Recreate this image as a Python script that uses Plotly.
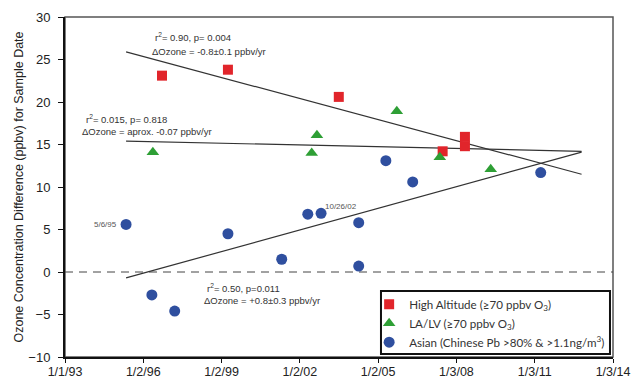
import plotly.graph_objects as go

# ---- data ----
high_dates = ["1996-09-20", "1999-04-01", "2003-07-01", "2007-06-24", "2008-05-01", "2008-05-01"]
high_vals = [23.1, 23.8, 20.6, 14.2, 15.9, 14.8]

lalv_dates = ["1996-05-15", "2002-06-17", "2002-08-29", "2005-09-20", "2007-05-15", "2009-04-27"]
lalv_vals = [14.1, 14.0, 16.1, 18.9, 13.5, 12.1]

asian_dates = ["1995-05-06", "1996-05-01", "1997-03-17", "1999-04-01", "2001-04-23", "2002-04-23",
               "2002-10-26", "2004-04-05", "2004-04-05", "2005-04-20", "2006-05-01", "2011-03-28"]
asian_vals = [5.6, -2.7, -4.6, 4.5, 1.5, 6.8, 6.9, 5.8, 0.7, 13.1, 10.6, 11.7]

trend_dates = ["1995-05-06", "2012-10-20"]
high_trend = [25.9, 11.5]
lalv_trend = [15.4, 14.2]
asian_trend = [-0.7, 14.1]

tick_vals = ["1993-01-01", "1996-01-02", "1999-01-02", "2002-01-02", "2005-01-02",
             "2008-01-03", "2011-01-03", "2014-01-03"]
tick_text = ["1/1/93", "1/2/96", "1/2/99", "1/2/02", "1/2/05", "1/3/08", "1/3/11", "1/3/14"]

RED = "#e1252b"
GREEN = "#2e9f35"
BLUE = "#2f4f9f"

fig = go.Figure()

for yv in (high_trend, lalv_trend, asian_trend):
    fig.add_trace(go.Scatter(x=trend_dates, y=yv, mode="lines",
                             line=dict(color="#333333", width=1.2), showlegend=False,
                             hoverinfo="skip"))

fig.add_trace(go.Scatter(x=high_dates, y=high_vals, mode="markers",
                         name="High Altitude (≥70 ppbv O<sub>3</sub>)",
                         marker=dict(symbol="square", size=10, color=RED)))
fig.add_trace(go.Scatter(x=lalv_dates, y=lalv_vals, mode="markers",
                         name="LA/LV (≥70 ppbv O<sub>3</sub>)",
                         marker=dict(symbol="triangle-up", size=11, color=GREEN)))
fig.add_trace(go.Scatter(x=asian_dates, y=asian_vals, mode="markers",
                         name="Asian (Chinese Pb >80% &amp; >1.1ng/m<sup>3</sup>)",
                         marker=dict(symbol="circle", size=11, color=BLUE)))

afont = dict(family="Liberation Sans, Arial, sans-serif", size=9.5, color="#333333")
notes = [
    ("1996-05-15", 27.6, "r<sup>2</sup>= 0.90, p= 0.004"),
    ("1996-04-05", 26.0, "ΔOzone = -0.8±0.1 ppbv/yr"),
    ("1993-09-23", 18.0, "r<sup>2</sup>= 0.015, p= 0.818"),
    ("1993-07-28", 16.5, "ΔOzone = aprox. -0.07 ppbv/yr"),
    ("1998-05-12", -1.9, "r<sup>2</sup>= 0.50, p=0.011"),
    ("1998-04-01", -3.4, "ΔOzone = +0.8±0.3 ppbv/yr"),
]
for x, y, t in notes:
    fig.add_annotation(x=x, y=y, text=t, showarrow=False, xanchor="left", yanchor="middle",
                       font=afont)

dfont = dict(family="Liberation Sans, Arial, sans-serif", size=8, color="#555555")
fig.add_annotation(x="1995-05-06", y=5.6, text="5/6/95", showarrow=False, xanchor="right",
                   yanchor="middle", xshift=-7, font=dfont)
fig.add_annotation(x="2002-10-26", y=6.9, text="10/26/02", showarrow=False, xanchor="left",
                   yanchor="bottom", xshift=2, yshift=0, font=dfont)

# frame (top/right gray) and zero reference
fig.add_shape(type="rect", xref="paper", yref="paper", x0=0, x1=1, y0=0, y1=1,
              line=dict(color="#555555", width=1.5), layer="below")
fig.add_shape(type="line", xref="paper", yref="y", x0=0, x1=1, y0=0, y1=0,
              line=dict(color="#444444", width=1, dash="8px,6px"), layer="below")
# legend frame
fig.add_shape(type="rect", xref="paper", yref="paper", x0=0.5766, x1=0.9945, y0=0.009, y1=0.194,
              line=dict(color="#111111", width=2), fillcolor="white", layer="above")

tfont = dict(family="Liberation Sans, Arial, sans-serif", size=12.5, color="#222222")
fig.update_xaxes(type="date", range=["1993-01-01", "2014-01-03"], tickvals=tick_vals,
                 ticktext=tick_text, showgrid=False, zeroline=False, showline=True,
                 linecolor="#111111", linewidth=2, ticks="outside", ticklen=4,
                 tickcolor="#111111", tickfont=tfont, automargin=False, ticklabelstandoff=-2)
fig.update_yaxes(range=[-10, 30], dtick=5, showgrid=False, zeroline=False, showline=True,
                 linecolor="#111111", linewidth=2, ticks="outside", ticklen=5,
                 tickcolor="#111111", tickfont=dict(tfont, size=13), ticklabelstandoff=5,
                 automargin=False,
                 title=dict(text="Ozone Concentration Difference (ppbv) for Sample Date",
                            font=dict(family="Liberation Sans, Arial, sans-serif", size=12.5,
                                      color="#222222"), standoff=2))

fig.update_layout(
    width=632, height=378,
    margin=dict(l=65, r=19, t=17, b=21),
    paper_bgcolor="white", plot_bgcolor="white",
    legend=dict(x=0.555, y=0.198, xanchor="left", yanchor="top",
                borderwidth=0, bgcolor="rgba(0,0,0,0)",
                font=dict(family="Lato, Open Sans, sans-serif", size=11.6, color="#333333"),
                itemwidth=30, tracegroupgap=0),
)

fig.write_html("out.html")
